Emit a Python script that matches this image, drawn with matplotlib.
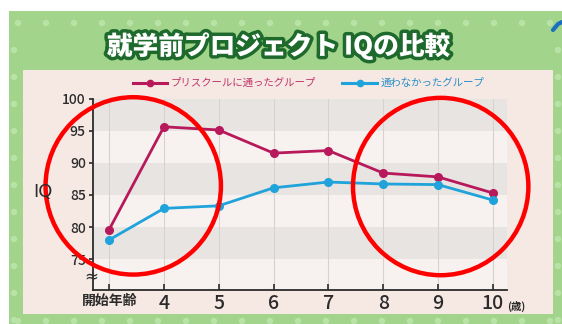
import matplotlib
matplotlib.use("Agg")
import matplotlib.pyplot as plt
import matplotlib.patheffects as pe
from matplotlib.patches import Rectangle, Ellipse, Circle
from matplotlib.lines import Line2D

plt.rcParams['font.family'] = ['Noto Sans CJK JP', 'DejaVu Sans']

# ---- data ----
categories = ['開始年齢', '4', '5', '6', '7', '8', '9', '10']
preschool = [79.6, 95.6, 95.1, 91.5, 91.9, 88.4, 87.8, 85.3]
no_preschool = [78.0, 82.9, 83.3, 86.1, 87.0, 86.7, 86.6, 84.2]
y_ticks = [75, 80, 85, 90, 95, 100]
title = '就学前プロジェクト IQの比較'
label_pre = 'プリスクールに通ったグループ'
label_no = '通わなかったグループ'

PINK = '#b8195a'
BLUE = '#1fa3da'
GREEN = '#a3d48b'
DOT = '#b9e2a6'
PANEL = '#f6e8e2'
LIGHT = '#f7f2ef'
GREY = '#e7e4e2'
DARK = '#2b2b2b'

W, H = 562, 324
fig = plt.figure(figsize=(W / 100, H / 100), dpi=100)
fig.patch.set_facecolor('white')

# background decoration axes in pixel coordinates
bg = fig.add_axes([0, 0, 1, 1], zorder=0)
bg.set_xlim(0, W)
bg.set_ylim(H, 0)
bg.axis('off')
bg.add_patch(Rectangle((9, 11), W - 9, H - 11, facecolor=GREEN, edgecolor='none'))
for i in range(20):
    bg.add_patch(Circle((18 + i * 28, 23), 3.2, facecolor=DOT, edgecolor='none'))
    bg.add_patch(Circle((18 + i * 28, 321), 3.2, facecolor=DOT, edgecolor='none'))
for j in range(11):
    bg.add_patch(Circle((14, 50 + j * 27), 3.2, facecolor=DOT, edgecolor='none'))
    bg.add_patch(Circle((558, 50 + j * 27), 3.2, facecolor=DOT, edgecolor='none'))
bg.add_patch(Rectangle((23, 70), 530, 244, facecolor=PANEL, edgecolor='none'))
bg.plot([553, 558, 562], [30, 24, 22], color='#1a6fc0', lw=3, solid_capstyle='round')

# title
fig.text(279 / W, 1 - 46 / H, title, ha='center', va='center', fontsize=18.5,
         fontweight='black', color='white',
         path_effects=[pe.Stroke(linewidth=5, foreground='#1d6a2c'), pe.Normal()])

# main axes
ax = fig.add_axes([92.7 / W, 1 - 290 / H, (507 - 92.7) / W, (290 - 98.5) / H], zorder=2)
ax.set_facecolor(LIGHT)
x = list(range(len(categories)))
ax.set_xlim(-0.3, len(categories) - 1 + 0.26)
ax.set_ylim(70.2, 100)

for lo in (75, 85, 95):
    ax.axhspan(lo, lo + 5, color=GREY, zorder=0, lw=0)
for xi in x:
    ax.axvline(xi, color='#d6d2d0', lw=0.8, zorder=0.5)

ax.plot(x, preschool, color=PINK, lw=2.0, marker='o', ms=5.5, zorder=3)
ax.plot(x, no_preschool, color=BLUE, lw=2.0, marker='o', ms=5.5, zorder=3)

for s in ('top', 'right'):
    ax.spines[s].set_visible(False)
for s in ('left', 'bottom'):
    ax.spines[s].set_color(DARK)
    ax.spines[s].set_linewidth(1.3)

ax.set_yticks(y_ticks)
ax.set_yticklabels([str(v) for v in y_ticks], fontsize=10, color=DARK, fontweight='medium')
ax.tick_params(axis='y', direction='out', length=3, width=1.2, color=DARK, pad=2)
ax.set_xticks(x)
ax.set_xticklabels(categories, color=DARK)
ax.tick_params(axis='x', direction='in', length=4, width=1.2, color=DARK, pad=3)
for i, t in enumerate(ax.get_xticklabels()):
    if i == 0:
        t.set_fontsize(10)
        t.set_fontweight('bold')
    else:
        t.set_fontsize(14)
        t.set_fontweight('medium')

# break mark and units
ax.text(-0.33, 72.3, '≈', transform=ax.transData, ha='center', va='center',
        fontsize=12, color=DARK, clip_on=False, family=['DejaVu Sans'])
ax.text(7.42, 67.6, '(歳)', ha='center', va='center', fontsize=7.5,
        fontweight='bold', color=DARK, clip_on=False)
fig.text(43 / W, 1 - 192 / H, 'IQ', ha='center', va='center', fontsize=13, color=DARK,
         family=['DejaVu Sans'])

# legend
y_leg = 1 - 82.5 / H
fig.add_artist(Line2D([133 / W, 167 / W], [y_leg, y_leg], color=PINK, lw=2.2,
                      transform=fig.transFigure))
fig.add_artist(Line2D([150 / W], [y_leg], color=PINK, marker='o', ms=4.5,
                      transform=fig.transFigure))
fig.text(171 / W, y_leg, label_pre, ha='left', va='center', fontsize=7.5, color='#c0336a')
fig.add_artist(Line2D([342 / W, 377 / W], [y_leg, y_leg], color=BLUE, lw=2.2,
                      transform=fig.transFigure))
fig.add_artist(Line2D([360 / W], [y_leg], color=BLUE, marker='o', ms=4.5,
                      transform=fig.transFigure))
fig.text(381 / W, y_leg, label_no, ha='left', va='center', fontsize=7.5, color='#2a8fc8')

# red highlight circles
for cx, cy in ((0.44, 86.4), (6.05, 86.3)):
    ax.add_patch(Ellipse((cx, cy), 3.2, 27.6, fill=False, edgecolor='#ff0000', lw=3.2,
                         clip_on=False, zorder=5))

fig.savefig('out.png', dpi=100, facecolor=fig.get_facecolor())
